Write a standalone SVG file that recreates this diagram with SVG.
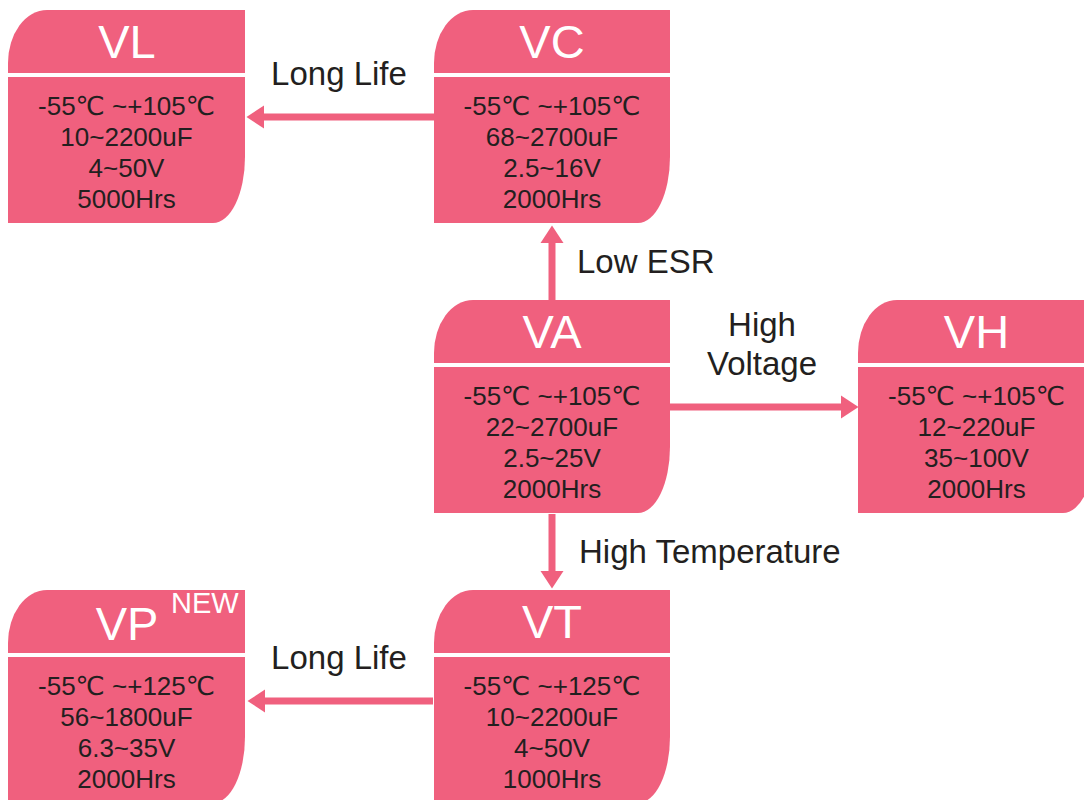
<svg xmlns="http://www.w3.org/2000/svg" width="1084" height="800" viewBox="0 0 1084 800">
<style>
.box{fill:#F0607E}
.div{stroke:#FFFFFF;stroke-width:4}
.hdr{font-family:"Liberation Sans",Arial,sans-serif;font-size:47px;fill:#FFFFFF;text-anchor:middle}
.new{font-family:"Liberation Sans",Arial,sans-serif;font-size:29px;fill:#FFFFFF}
.body{font-family:"Liberation Sans",Arial,"DejaVu Sans","Noto Sans CJK SC",sans-serif;font-size:26px;fill:#231F20;text-anchor:middle}
.lbl{font-family:"Liberation Sans",Arial,sans-serif;font-size:33px;fill:#231F20}
.conn{stroke:#F0607E;stroke-width:7;fill:none;marker-end:url(#ah)}
</style>
<defs>
<marker id="ah" markerUnits="userSpaceOnUse" markerWidth="19" markerHeight="24" refX="0" refY="12" orient="auto" overflow="visible">
<path d="M0,0.5 L17.5,12 L0,23.5 Z" fill="#F0607E"/>
</marker>
</defs>
<g id="connectors">
<line class="conn" x1="434" y1="117" x2="264" y2="117"/>
<line class="conn" x1="552" y1="300" x2="552" y2="243"/>
<line class="conn" x1="670" y1="407" x2="841" y2="407"/>
<line class="conn" x1="552" y1="514" x2="552" y2="571"/>
<line class="conn" x1="433" y1="701" x2="265" y2="701"/>
</g>
<g id="node-VL">
<path class="box" d="M8,63 A39,53 0 0 1 47,10 H245 V157 A32,66 0 0 1 213,223 H8 Z"/>
<line class="div" x1="8" y1="75" x2="245" y2="75"/>
<text class="hdr" x="127" y="58">VL</text>
<text class="body" x="126.5" y="115">-55℃ ~+105℃</text>
<text class="body" x="126.5" y="146">10~2200uF</text>
<text class="body" x="126.5" y="177">4~50V</text>
<text class="body" x="126.5" y="208">5000Hrs</text>
</g>
<g id="node-VC">
<path class="box" d="M434,63 A39,53 0 0 1 473,10 H670 V157 A32,66 0 0 1 638,223 H434 Z"/>
<line class="div" x1="434" y1="75" x2="670" y2="75"/>
<text class="hdr" x="552" y="58">VC</text>
<text class="body" x="552" y="115">-55℃ ~+105℃</text>
<text class="body" x="552" y="146">68~2700uF</text>
<text class="body" x="552" y="177">2.5~16V</text>
<text class="body" x="552" y="208">2000Hrs</text>
</g>
<g id="node-VA">
<path class="box" d="M434,353 A39,53 0 0 1 473,300 H670 V447 A32,66 0 0 1 638,513 H434 Z"/>
<line class="div" x1="434" y1="365" x2="670" y2="365"/>
<text class="hdr" x="552" y="348">VA</text>
<text class="body" x="552" y="405">-55℃ ~+105℃</text>
<text class="body" x="552" y="436">22~2700uF</text>
<text class="body" x="552" y="467">2.5~25V</text>
<text class="body" x="552" y="498">2000Hrs</text>
</g>
<g id="node-VH">
<path class="box" d="M858,353 A39,53 0 0 1 897,300 H1095 V447 A32,66 0 0 1 1063,513 H858 Z"/>
<line class="div" x1="858" y1="365" x2="1095" y2="365"/>
<text class="hdr" x="976.5" y="348">VH</text>
<text class="body" x="976.5" y="405">-55℃ ~+105℃</text>
<text class="body" x="976.5" y="436">12~220uF</text>
<text class="body" x="976.5" y="467">35~100V</text>
<text class="body" x="976.5" y="498">2000Hrs</text>
</g>
<g id="node-VT">
<path class="box" d="M434,643 A39,53 0 0 1 473,590 H670 V737 A32,66 0 0 1 638,803 H434 Z"/>
<line class="div" x1="434" y1="655" x2="670" y2="655"/>
<text class="hdr" x="552" y="638">VT</text>
<text class="body" x="552" y="695">-55℃ ~+125℃</text>
<text class="body" x="552" y="726">10~2200uF</text>
<text class="body" x="552" y="757">4~50V</text>
<text class="body" x="552" y="788">1000Hrs</text>
</g>
<g id="node-VP">
<path class="box" d="M8,643 A39,53 0 0 1 47,590 H245 V737 A32,66 0 0 1 213,803 H8 Z"/>
<line class="div" x1="8" y1="655" x2="245" y2="655"/>
<text class="hdr" x="127" y="640">VP</text>
<text class="new" x="171" y="613">NEW</text>
<text class="body" x="126.5" y="695">-55℃ ~+125℃</text>
<text class="body" x="126.5" y="726">56~1800uF</text>
<text class="body" x="126.5" y="757">6.3~35V</text>
<text class="body" x="126.5" y="788">2000Hrs</text>
</g>
<g id="labels">
<text class="lbl" x="339" y="85" text-anchor="middle">Long Life</text>
<text class="lbl" x="577" y="273">Low ESR</text>
<text class="lbl" x="762" y="336" text-anchor="middle">High</text>
<text class="lbl" x="762" y="375" text-anchor="middle">Voltage</text>
<text class="lbl" x="579" y="563">High Temperature</text>
<text class="lbl" x="339" y="669" text-anchor="middle">Long Life</text>
</g>
</svg>
